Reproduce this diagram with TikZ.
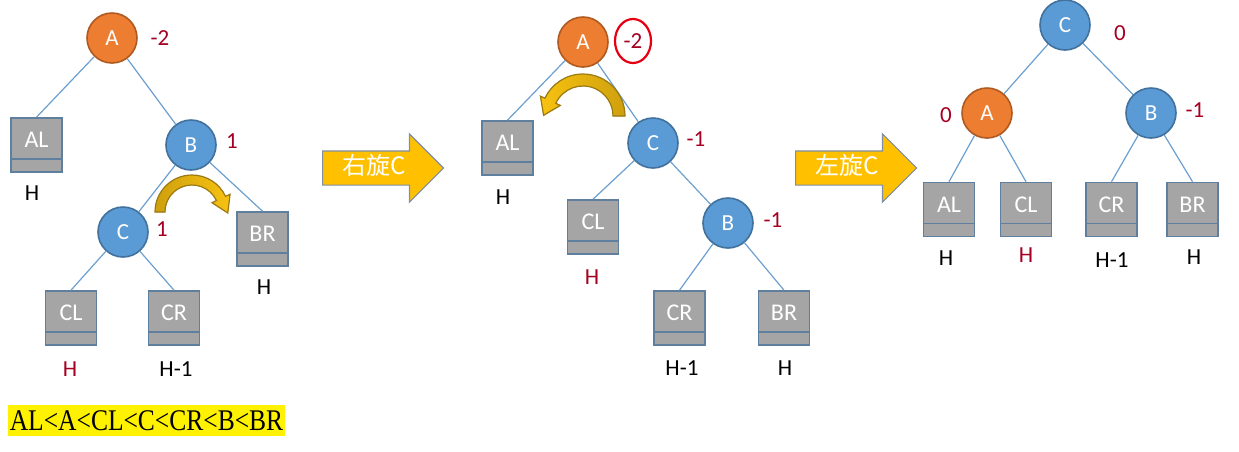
\documentclass[tikz,border=0pt]{standalone}
\usepackage{fontspec}
\setmainfont{Carlito}
\newfontfamily\cjk{Noto Sans CJK SC}
\newfontfamily\ordfont{Liberation Serif}
\usetikzlibrary{shapes.arrows,shapes.geometric,calc}
\definecolor{NodeBlue}{HTML}{5B9BD5}
\definecolor{NodeBlueEdge}{HTML}{41719C}
\definecolor{NodeOrange}{HTML}{ED7D31}
\definecolor{NodeOrangeEdge}{HTML}{AE5A21}
\definecolor{BoxGray}{HTML}{A5A5A5}
\definecolor{BoxEdge}{HTML}{5E7F9E}
\definecolor{EdgeBlue}{HTML}{6A9FCF}
\definecolor{Factor}{HTML}{A50021}
\definecolor{Gold}{HTML}{FFC000}
\definecolor{GoldLight}{HTML}{F7C211}
\definecolor{GoldDark}{HTML}{CFA00E}
\definecolor{GoldEdge}{HTML}{9C7A12}
\definecolor{ArrowEdge}{HTML}{7F8FA6}
\definecolor{MarkRed}{HTML}{E60012}
\tikzset{
  avl/.style={circle,minimum size=25pt,inner sep=0pt,line width=0.8pt,
    text=white,font=\fontsize{11.5}{11.5}\selectfont},
  blu/.style={avl,fill=NodeBlue,draw=NodeBlueEdge},
  org/.style={avl,fill=NodeOrange,draw=NodeOrangeEdge},
  sub/.style={rectangle,fill=BoxGray,draw=BoxEdge,line width=0.8pt,
    minimum width=25.5pt,minimum height=27pt,inner sep=0pt,
    text height=7.7pt,text depth=5pt,text=white,font=\fontsize{12}{12}\selectfont,
    path picture={\draw[BoxEdge,line width=0.6pt]
      ([yshift=6.5pt]path picture bounding box.south west) --
      ([yshift=6.5pt]path picture bounding box.south east);}},
  bf/.style={text=Factor,font=\fontsize{11.5}{11.5}\selectfont},
  ht/.style={font=\fontsize{11.5}{11.5}\selectfont},
  link/.style={EdgeBlue,line width=0.6pt},
  turn/.style={single arrow,single arrow head extend=8.5pt,
    single arrow head indent=0pt,fill=Gold,draw=ArrowEdge,line width=0.6pt,
    minimum height=60.5pt,inner xsep=3pt,inner ysep=2.75pt,
    text height=8.5pt,text depth=2.5pt,text=white,
    font=\cjk\fontsize{12}{12}\selectfont,anchor=tail},
  bandl/.style={left color=GoldDark,right color=GoldLight,draw=GoldEdge,line width=0.6pt},
  bandr/.style={left color=GoldLight,right color=GoldDark,draw=GoldEdge,line width=0.6pt},
  circled/.style={ellipse,draw=MarkRed,line width=1.1pt,minimum width=18pt,
    minimum height=22pt,inner sep=0pt}
}
\begin{document}
\begin{tikzpicture}[x=0.5pt,y=-0.5pt]
  \useasboundingbox (0,0) rectangle (1239,451);
  % before
  \node[org] (a1) at (112,38) {A};
  \node[blu] (b1) at (191,145) {B};
  \node[blu] (c1) at (123,232) {C};
  \node[sub] (al1) at (36.5,145) {AL};
  \node[sub] (br1) at (262.5,239) {BR};
  \node[sub] (cl1) at (71,318) {CL};
  \node[sub] (cr1) at (174,318) {CR};
  \draw[link] (a1) -- (al1.north);
  \draw[link] (a1) -- (b1);
  \draw[link] (b1) -- (c1);
  \draw[link] (b1) -- (br1.north);
  \draw[link] (c1) -- (cl1.north);
  \draw[link] (c1) -- (cr1.north);
  \node[bf] (fa1) at (160,38) {-2};
  \node[bf] (fb1) at (232,141) {1};
  \node[bf] (fc1) at (162,229) {1};
  \node[ht] (hal1) at (32,193) {H};
  \node[ht] (hbr1) at (264,287) {H};
  \node[ht,text=Factor] (hcl1) at (70,369) {H};
  \node[ht] (hcr1) at (176,369) {H-1};
  \filldraw[bandl] ($(192,212)+(180:37)$) arc[start angle=180,end angle=335,radius=37]
    -- ($(192,212)+(335:42)$) -- ($(192,212)+(335:32)+(65:16)$)
    -- ($(192,212)+(335:22)$) -- ($(192,212)+(335:27)$)
    arc[start angle=335,end angle=180,radius=27] -- cycle;
  \node[fill=yellow,minimum width=138.5pt,minimum height=15.5pt,inner sep=0pt]
    (order) at (146.5,420.5)
    {\ordfont\fontsize{15}{15}\selectfont\scalebox{0.85}[1]{AL<A<CL<C<CR<B<BR}};

  % right rotation
  \node[turn] (rot1) at (322,168) {右旋C};
  \node[org] (a2) at (583,42) {A};
  \node[blu] (c2) at (653,143) {C};
  \node[blu] (b2) at (728,223) {B};
  \node[sub] (al2) at (507.5,148) {AL};
  \node[sub] (cl2) at (593,227) {CL};
  \node[sub] (cr2) at (679.5,318) {CR};
  \node[sub] (br2) at (784,318) {BR};
  \draw[link] (a2) -- (al2.north);
  \draw[link] (a2) -- (c2);
  \draw[link] (c2) -- (cl2.north);
  \draw[link] (c2) -- (b2);
  \draw[link] (b2) -- (cr2.north);
  \draw[link] (b2) -- (br2.north);
  \node[bf,circled] (fa2) at (633,41) {-2};
  \node[bf] (fc2) at (696,139) {-1};
  \node[bf] (fb2) at (773,220) {-1};
  \node[ht] (hal2) at (503,197) {H};
  \node[ht,text=Factor] (hcl2) at (592,277) {H};
  \node[ht] (hcr2) at (682,368) {H-1};
  \node[ht] (hbr2) at (785,368) {H};
  \filldraw[bandr] ($(583,116)+(360:42)$) arc[start angle=360,end angle=205,radius=42]
    -- ($(583,116)+(205:47)$) -- ($(583,116)+(205:36)+(115:16)$)
    -- ($(583,116)+(205:25)$) -- ($(583,116)+(205:30)$)
    arc[start angle=205,end angle=360,radius=30] -- cycle;

  % left rotation
  \node[turn] (rot2) at (795,168) {左旋C};
  \node[blu] (c3) at (1065,25) {C};
  \node[org] (a3) at (987,113) {A};
  \node[blu] (b3) at (1151,113) {B};
  \node[sub] (al3) at (949,209.5) {AL};
  \node[sub] (cl3) at (1026,209.5) {CL};
  \node[sub] (cr3) at (1111.5,209.5) {CR};
  \node[sub] (br3) at (1192.5,209.5) {BR};
  \draw[link] (c3) -- (a3);
  \draw[link] (c3) -- (b3);
  \draw[link] (a3) -- (al3.north);
  \draw[link] (a3) -- (cl3.north);
  \draw[link] (b3) -- (cr3.north);
  \draw[link] (b3) -- (br3.north);
  \node[bf] (fc3) at (1120,33) {0};
  \node[bf] (fa3) at (946,115) {0};
  \node[bf] (fb3) at (1195,110) {-1};
  \node[ht] (hal3) at (946,258) {H};
  \node[ht,text=Factor] (hcl3) at (1026,255) {H};
  \node[ht] (hcr3) at (1112,260) {H-1};
  \node[ht] (hbr3) at (1194,257) {H};
\end{tikzpicture}
\end{document}
